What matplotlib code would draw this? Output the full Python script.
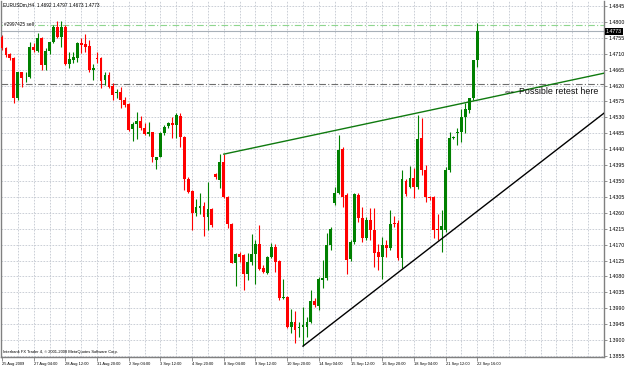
import matplotlib

matplotlib.use("Agg")
import matplotlib.pyplot as plt
import matplotlib.transforms as mtransforms
import numpy as np

# EURUSDm H4 candles
opens = [1.4758, 1.4726, 1.4709, 1.4699, 1.4585, 1.4658, 1.4643, 1.4645, 1.4730, 1.4718,
         1.4754, 1.4678, 1.4718, 1.4743, 1.4786, 1.4758, 1.4786, 1.4681, 1.4692, 1.4698,
         1.4740, 1.4738, 1.4732, 1.4664, 1.4698, 1.4698, 1.4636, 1.4650, 1.4619, 1.4599,
         1.4602, 1.4579, 1.4568, 1.4497, 1.4511, 1.4520, 1.4500, 1.4483, 1.4488, 1.4409,
         1.4419, 1.4487, 1.4505, 1.4514, 1.4508, 1.4535, 1.4474, 1.4355, 1.4322, 1.4259,
         1.4273, 1.4279, 1.4249, 1.4271, 1.4370, 1.4353, 1.4404, 1.4305, 1.4228, 1.4119,
         1.4143, 1.4140, 1.4087, 1.4121, 1.4143, 1.4172, 1.4104, 1.4090, 1.4135, 1.4164,
         1.4124, 1.4018, 1.4022, 1.3937, 1.3952, 1.3934, 1.3937, 1.3937, 1.3952, 1.4011,
         1.3996, 1.4070, 1.4075, 1.4169, 1.4288, 1.4316, 1.4440, 1.4310, 1.4129, 1.4178,
         1.4310, 1.4245, 1.4188, 1.4239, 1.4211, 1.4150, 1.4135, 1.4169, 1.4160, 1.4231,
         1.4231, 1.4132, 1.4351, 1.4333, 1.4358, 1.4333, 1.4471, 1.4381, 1.4305, 1.4305,
         1.4214, 1.4211, 1.4211, 1.4381, 1.4472, 1.4485, 1.4489, 1.4531, 1.4551, 1.4585,
         1.4692]
highs = [1.4763, 1.4730, 1.4712, 1.4701, 1.4659, 1.4659, 1.4657, 1.4744, 1.4739, 1.4768,
         1.4758, 1.4725, 1.4744, 1.4791, 1.4803, 1.4803, 1.4791, 1.4714, 1.4716, 1.4744,
         1.4754, 1.4765, 1.4749, 1.4680, 1.4714, 1.4701, 1.4659, 1.4659, 1.4626, 1.4610,
         1.4617, 1.4588, 1.4570, 1.4516, 1.4544, 1.4535, 1.4513, 1.4516, 1.4489, 1.4419,
         1.4489, 1.4508, 1.4518, 1.4532, 1.4541, 1.4541, 1.4477, 1.4362, 1.4324, 1.4298,
         1.4315, 1.4291, 1.4348, 1.4273, 1.4372, 1.4426, 1.4426, 1.4307, 1.4230, 1.4147,
         1.4150, 1.4143, 1.4145, 1.4200, 1.4183, 1.4225, 1.4112, 1.4137, 1.4175, 1.4173,
         1.4126, 1.4072, 1.4024, 1.3987, 1.3983, 1.3952, 1.3993, 1.3966, 1.4041, 1.4018,
         1.4079, 1.4126, 1.4202, 1.4220, 1.4334, 1.4480, 1.4445, 1.4315, 1.4183, 1.4315,
         1.4315, 1.4277, 1.4249, 1.4273, 1.4273, 1.4173, 1.4192, 1.4183, 1.4268, 1.4251,
         1.4239, 1.4381, 1.4355, 1.4392, 1.4386, 1.4537, 1.4527, 1.4395, 1.4307, 1.4307,
         1.4258, 1.4268, 1.4390, 1.4489, 1.4477, 1.4499, 1.4553, 1.4570, 1.4585, 1.4692,
         1.4797]
lows = [1.4720, 1.4701, 1.4692, 1.4570, 1.4579, 1.4617, 1.4631, 1.4640, 1.4716, 1.4716,
        1.4664, 1.4664, 1.4708, 1.4739, 1.4754, 1.4730, 1.4678, 1.4669, 1.4683, 1.4687,
        1.4711, 1.4714, 1.4659, 1.4636, 1.4683, 1.4614, 1.4621, 1.4612, 1.4579, 1.4586,
        1.4556, 1.4560, 1.4491, 1.4463, 1.4469, 1.4494, 1.4480, 1.4478, 1.4404, 1.4384,
        1.4417, 1.4480, 1.4499, 1.4471, 1.4471, 1.4447, 1.4324, 1.4315, 1.4211, 1.4251,
        1.4258, 1.4194, 1.4211, 1.4220, 1.4357, 1.4329, 1.4301, 1.4216, 1.4117, 1.4053,
        1.4121, 1.4043, 1.4070, 1.4112, 1.4058, 1.4098, 1.4089, 1.4087, 1.4131, 1.4093,
        1.4013, 1.4015, 1.3933, 1.3919, 1.3891, 1.3909, 1.3883, 1.3909, 1.3947, 1.3994,
        1.3985, 1.4046, 1.4070, 1.4155, 1.4282, 1.4313, 1.4277, 1.4087, 1.4124, 1.4173,
        1.4235, 1.4178, 1.4183, 1.4183, 1.4107, 1.4098, 1.4074, 1.4135, 1.4155, 1.4220,
        1.4126, 1.4103, 1.4307, 1.4329, 1.4301, 1.4326, 1.4367, 1.4291, 1.4296, 1.4190,
        1.4183, 1.4150, 1.4206, 1.4376, 1.4469, 1.4452, 1.4461, 1.4487, 1.4543, 1.4579,
        1.4673]
closes = [1.4725, 1.4706, 1.4698, 1.4584, 1.4658, 1.4641, 1.4645, 1.4730, 1.4720, 1.4755,
          1.4678, 1.4718, 1.4743, 1.4786, 1.4758, 1.4786, 1.4681, 1.4695, 1.4701, 1.4740,
          1.4735, 1.4729, 1.4664, 1.4670, 1.4695, 1.4633, 1.4650, 1.4616, 1.4593, 1.4602,
          1.4579, 1.4565, 1.4494, 1.4511, 1.4520, 1.4500, 1.4483, 1.4488, 1.4418, 1.4418,
          1.4487, 1.4503, 1.4515, 1.4508, 1.4537, 1.4474, 1.4355, 1.4319, 1.4259, 1.4277,
          1.4279, 1.4249, 1.4271, 1.4225, 1.4361, 1.4404, 1.4305, 1.4228, 1.4119, 1.4143,
          1.4134, 1.4087, 1.4121, 1.4143, 1.4172, 1.4101, 1.4093, 1.4135, 1.4164, 1.4121,
          1.4019, 1.4022, 1.3937, 1.3952, 1.3928, 1.3937, 1.3942, 1.3952, 1.4011, 1.3999,
          1.4072, 1.4075, 1.4169, 1.4214, 1.4316, 1.4438, 1.4305, 1.4126, 1.4178, 1.4313,
          1.4245, 1.4188, 1.4239, 1.4211, 1.4147, 1.4135, 1.4169, 1.4160, 1.4228, 1.4229,
          1.4132, 1.4355, 1.4313, 1.4358, 1.4333, 1.4469, 1.4381, 1.4305, 1.4302, 1.4211,
          1.4211, 1.4222, 1.4381, 1.4471, 1.4474, 1.4489, 1.4531, 1.4554, 1.4585, 1.4692,
          1.4773]

time_labels = ["25 Aug 2009", "27 Aug 04:00", "28 Aug 12:00", "31 Aug 20:00", "2 Sep 04:00",
               "3 Sep 12:00", "4 Sep 20:00", "8 Sep 04:00", "9 Sep 12:00", "10 Sep 20:00",
               "14 Sep 04:00", "15 Sep 12:00", "16 Sep 20:00", "18 Sep 04:00", "21 Sep 12:00",
               "22 Sep 16:00"]
label_bars = [0, 8, 16, 24, 32, 40, 48, 56, 64, 72, 80, 88, 96, 104, 112, 120]
price_ticks = [1.3855, 1.3900, 1.3945, 1.3990, 1.4035, 1.4080, 1.4125, 1.4170, 1.4215,
               1.4260, 1.4305, 1.4350, 1.4395, 1.4440, 1.4485, 1.4530, 1.4575, 1.4620,
               1.4665, 1.4710, 1.4755, 1.4800, 1.4845]

# drawn objects
upper_line = [(56, 1.4426), (152, 1.4655)]   # green resistance ray
lower_line = [(76, 1.3883), (152, 1.4542)]   # black support ray
order_price = 1.4791
stop_price = 1.4624
bid = 1.4773

o = np.array(opens)
h = np.array(highs)
l = np.array(lows)
c = np.array(closes)
x = np.arange(len(o))
up = c >= o
col = np.where(up, "#008000", "#ff0000")

fig = plt.figure(figsize=(6.25, 3.66), dpi=100)
ax = fig.add_axes([1 / 625, 9 / 366, 603 / 625, 356 / 366])
ax.set_xlim(-0.25, 152.0)
ax.set_ylim(1.38522, 1.48592)

grid_kw = dict(color="#c3c7d0", lw=0.6, ls=(0, (2, 1.6)), zorder=0)
for p in price_ticks:
    ax.axhline(p, **grid_kw)
for gx in np.arange(4, 152, 4):
    ax.axvline(gx, **grid_kw)

ax.vlines(x, l, h, colors=col, lw=0.8, zorder=2)
body = np.maximum(np.abs(c - o), 0.00008)
ax.bar(x, body, bottom=np.minimum(o, c), width=0.72, color=col, lw=0, zorder=3)

# order / price lines
ax.axhline(order_price, color="#8fd68f", lw=0.8, ls=(0, (6, 2, 1, 2)), zorder=1)
ax.axhline(stop_price, color="#6e6e6e", lw=0.8, ls=(0, (6, 2, 1, 2)), zorder=1)
ax.axhline(bid, color="#a8b0b8", lw=0.8, zorder=1)

(x0, y0), (x1, y1) = upper_line
ax.plot([x0, x1], [y0, y1], color="#0f7a0f", lw=1.0, zorder=4)
(x0, y0), (x1, y1) = lower_line
ax.plot([x0, x1], [y0, y1], color="black", lw=1.0, zorder=4)

ax.text(127, 1.4601, "<==", fontsize=4, family="Liberation Sans", va="center", ha="left", zorder=5)
ax.text(130.5, 1.4602, "Possible retest here", fontsize=6.4, family="Liberation Sans",
        va="center", ha="left", color="#111111", zorder=5)

ax.text(0.4, order_price + 0.0002, "#2997425 sell", fontsize=3.4, family="Liberation Sans",
        va="center", ha="left", zorder=5,
        bbox=dict(facecolor="white", edgecolor="none", pad=0.3))

ax.text(0.004, 1 - 4 / 356, "EURUSDm,H4  1.4692 1.4797 1.4673 1.4773", transform=ax.transAxes,
        fontsize=3.4, family="Liberation Sans", va="center", ha="left")
ax.text(0.004, 5 / 356, "Interbank FX Trader 4, \u00a9 2001-2008 MetaQuotes Software Corp.",
        transform=ax.transAxes, fontsize=2.9, family="Liberation Sans", va="center", ha="left")

# axes styling (MT4 look)
for side in ("left", "right", "bottom"):
    ax.spines[side].set_color("#808080")
    ax.spines[side].set_linewidth(1.0)
ax.spines["top"].set_visible(False)

ax.yaxis.tick_right()
ax.set_yticks(price_ticks)
ax.set_yticklabels([f"{p:.4f}" for p in price_ticks])
ax.tick_params(axis="y", length=2, width=0.6, color="#808080", pad=1.5, labelsize=3.8)
ax.set_xticks(label_bars)
ax.set_xticklabels(time_labels)
for lbl in ax.get_xticklabels():
    lbl.set_horizontalalignment("left")
ax.tick_params(axis="x", length=3, width=0.6, color="#808080", pad=0.8, labelsize=2.9)
for lbl in ax.get_xticklabels() + ax.get_yticklabels():
    lbl.set_family("Liberation Sans")

trans = mtransforms.blended_transform_factory(ax.transAxes, ax.transData)
ax.text(1.0 + 2 / 603, bid, "1.4773", transform=trans, fontsize=3.8, family="Liberation Sans",
        color="white", va="center", ha="left", zorder=6,
        bbox=dict(facecolor="black", edgecolor="none", pad=0.6))

fig.savefig("out.png", dpi=100, facecolor="white")
plt.close(fig)
